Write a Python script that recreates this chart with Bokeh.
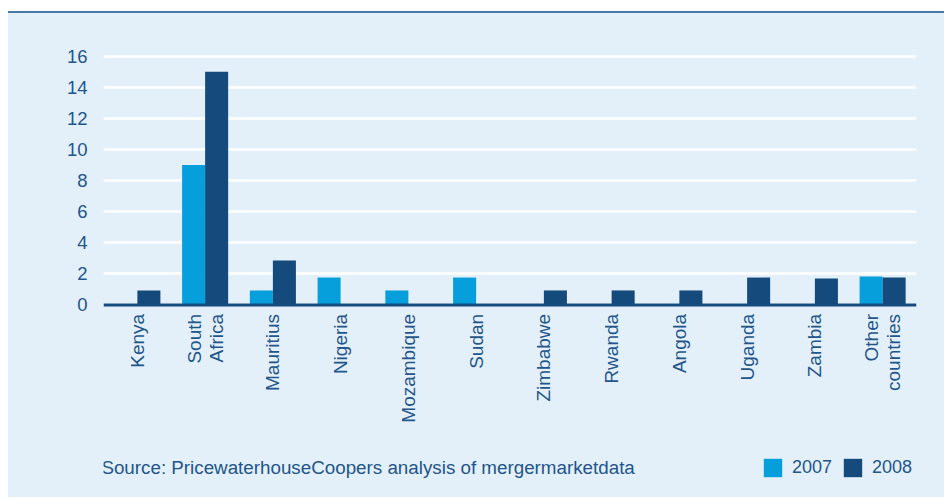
import math
from bokeh.plotting import figure
from bokeh.models import ColumnDataSource, FactorRange, Range1d, Legend, LegendItem, Span
from bokeh.core.properties import value
from bokeh.transform import dodge
from bokeh.embed import file_html
from bokeh.resources import INLINE

countries = ["Kenya", "South\nAfrica", "Mauritius", "Nigeria", "Mozambique", "Sudan",
             "Zimbabwe", "Rwanda", "Angola", "Uganda", "Zambia", "Other\ncountries"]
v2007 = [0, 9, 0.93, 1.76, 0.93, 1.76, 0, 0, 0, 0, 0, 1.83]
v2008 = [0.93, 15, 2.86, 0, 0, 0, 0.93, 0.93, 0.93, 1.76, 1.7, 1.76]
y_ticks = [0, 2, 4, 6, 8, 10, 12, 14, 16]
series = ["2007", "2008"]
source_note = "Source: PricewaterhouseCoopers analysis of mergermarketdata"

BG = "#e4f0f9"
C07 = "#069fdc"
C08 = "#154a7d"
TXT = "#22558a"
FONT = "Liberation Sans"

src = ColumnDataSource(dict(country=countries, v2007=v2007, v2008=v2008,
                            zero=[0] * len(countries)))

p = figure(x_range=FactorRange(*countries, range_padding=0),
           y_range=Range1d(-12.52, 16.24),
           width=936, height=486,
           output_backend="svg", toolbar_location=None,
           x_axis_location=None,
           min_border_left=95, min_border_right=28,
           min_border_top=39, min_border_bottom=0)
p.styles = {"border-top": "2px solid #4a79a8", "margin-top": "11px", "margin-left": "8px",
            "background-color": BG}
p.background_fill_color = BG
p.border_fill_color = BG
p.outline_line_color = None

r1 = p.vbar(x=dodge("country", -0.17, range=p.x_range), top="v2007", width=0.34,
            source=src, fill_color=C07, line_color=None)
r2 = p.vbar(x=dodge("country", 0.17, range=p.x_range), top="v2008", width=0.34,
            source=src, fill_color=C08, line_color=None)

for g in p.xgrid:
    g.grid_line_color = None
p.ygrid.grid_line_color = "white"
p.ygrid.grid_line_width = 2.5
p.yaxis.ticker = y_ticks

p.yaxis.axis_line_color = None
p.yaxis.major_tick_line_color = None
p.yaxis.minor_tick_line_color = None
p.yaxis.major_tick_out = 0
p.yaxis.major_tick_in = 0
p.yaxis.major_label_text_font = FONT
p.yaxis.major_label_text_font_size = "18.5px"
p.yaxis.major_label_text_color = TXT
p.yaxis.major_label_standoff = 16

# category axis baseline
p.add_layout(Span(location=0, dimension="width", line_color=C08, line_width=3))

# category labels, rotated to read bottom to top
p.text(x="country", y="zero", text="country", source=src, angle=math.pi / 2,
       text_align="right", text_baseline="middle", y_offset=9,
       text_font=value(FONT), text_font_size="19px", text_color=TXT,
       text_line_height=1.05)

# source note
p.text(x=[countries[0]], y=[-10.46], text=[source_note], x_offset=-36,
       text_align="left", text_baseline="middle",
       text_font=value(FONT), text_font_size="18.8px", text_color=TXT)

legend = Legend(items=[LegendItem(label=series[0], renderers=[r1]),
                       LegendItem(label=series[1], renderers=[r2])],
                orientation="horizontal", location=(658, 20),
                glyph_width=23, glyph_height=23, label_standoff=8, spacing=9,
                label_width=10,
                padding=0, margin=0, border_line_color=None,
                background_fill_alpha=0,
                label_text_font=FONT, label_text_font_size="18px",
                label_text_color=TXT)
p.add_layout(legend, "center")

open("out.html", "w").write(file_html(p, INLINE))
